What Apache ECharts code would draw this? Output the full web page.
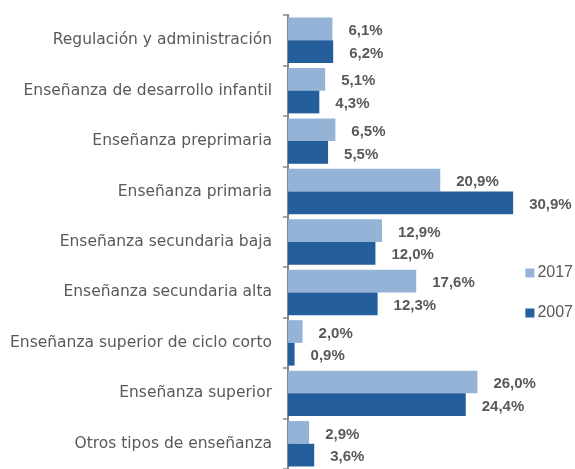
<!DOCTYPE html>
<html>
<head>
<meta charset="utf-8">
<script src="https://cdn.jsdelivr.net/npm/echarts@6/dist/echarts.min.js"></script>
<style>
  html, body { margin: 0; padding: 0; background: #fff; }
  #chart { width: 575px; height: 469px; }
</style>
</head>
<body>
<div id="chart"></div>
<script>
// categorías (de arriba a abajo)
const categories = [
  'Regulación y administración',
  'Enseñanza de desarrollo infantil',
  'Enseñanza preprimaria',
  'Enseñanza primaria',
  'Enseñanza secundaria baja',
  'Enseñanza secundaria alta',
  'Enseñanza superior de ciclo corto',
  'Enseñanza superior',
  'Otros tipos de enseñanza'
]
const seriesNames = ['2017', '2007']
const values2017 = [6.1, 5.1, 6.5, 20.9, 12.9, 17.6, 2.0, 26.0, 2.9]
const values2007 = [6.2, 4.3, 5.5, 30.9, 12.0, 12.3, 0.9, 24.4, 3.6]

const textColor = '#595959'
const fontFamily = '"DejaVu Sans", sans-serif'

const labelOpt = {
  show: true,
  position: 'right',
  distance: 16,
  offset: [0, 2],
  color: textColor,
  fontWeight: 'bold',
  fontSize: 15,
  fontFamily: '"Liberation Sans", Arial, sans-serif',
  formatter: p => p.value.toFixed(1).replace('.', ',') + '%'
}

const myChart = echarts.init(document.getElementById('chart'))
const option = {
  animation: false,
  legend: {
    orient: 'vertical',
    right: 2,
    top: 265,
    padding: 0,
    itemWidth: 9,
    itemHeight: 9,
    itemGap: 24,
    icon: 'rect',
    textStyle: {
      color: textColor,
      fontSize: 16,
      padding: [0, 0, 0, -2],
      fontFamily: '"Liberation Sans", Arial, sans-serif'
    },
    data: seriesNames
  },
  grid: {
    left: 288,
    top: 15,
    width: 255,
    height: 458
  },
  xAxis: {
    type: 'value',
    min: 0,
    max: 35,
    show: false
  },
  yAxis: {
    type: 'category',
    inverse: true,
    data: categories,
    axisLine: {
      lineStyle: { color: '#888888', width: 2 }
    },
    axisTick: {
      show: true,
      length: 5,
      lineStyle: { color: '#888888', width: 1.5 }
    },
    axisLabel: {
      margin: 16,
      color: textColor,
      fontSize: 15.5,
      fontFamily: fontFamily
    }
  },
  series: [
    {
      name: seriesNames[0],
      type: 'bar',
      data: values2017,
      barGap: '0%',
      barCategoryGap: '10%',
      itemStyle: { color: '#95b3d7' },
      label: labelOpt
    },
    {
      name: seriesNames[1],
      type: 'bar',
      data: values2007,
      itemStyle: { color: '#245e9b' },
      label: labelOpt
    }
  ]
}
myChart.setOption(option)
</script>
</body>
</html>
